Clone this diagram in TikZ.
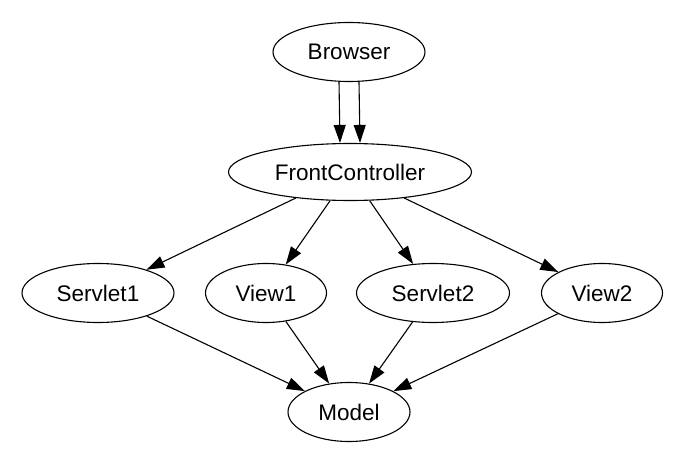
\documentclass[tikz,border=0pt]{standalone}
\usepackage{fontspec}
\setmainfont{Liberation Sans}
\usetikzlibrary{arrows.meta,shapes.geometric}
\tikzset{
    state/.style={
        ellipse,
        draw=black,
        line width=1.1pt,
        minimum height=59pt,
        inner sep=0pt,
        font=\fontsize{22.5}{26}\selectfont
    },
    edge/.style={
        draw=black,
        line width=1.1pt,
        -{Triangle[length=18pt,width=12pt]}
    }
}

\begin{document}
\begin{tikzpicture}[x=1pt,y=-1pt]
    \useasboundingbox (0,0) rectangle (692,454);

    % top of the graph
    \node[state, minimum width=152pt] (browser) at (349,52) {Browser};
    \node[state, minimum width=243pt, minimum height=57pt] (front) at (350,172) {FrontController};

    % middle row
    \node[state, minimum width=152pt] (servlet1) at (98,293) {Servlet1};
    \node[state, minimum width=121pt] (view1) at (266,293) {View1};
    \node[state, minimum width=153pt] (servlet2) at (433,293) {Servlet2};
    \node[state, minimum width=121pt] (view2) at (602,293) {View2};

    % bottom
    \node[state, minimum width=122pt] (model) at (349,412) {Model};

    % two requests from the browser
    \draw[edge] ([xshift=-10pt]browser.south) -- ([xshift=-10pt]front.north);
    \draw[edge] ([xshift=10pt]browser.south) -- ([xshift=10pt]front.north);

    \foreach \target in {servlet1,view1,servlet2,view2} {
        \draw[edge] (front) -- (\target);
        \draw[edge] (\target) -- (model);
    }
\end{tikzpicture}
\end{document}
